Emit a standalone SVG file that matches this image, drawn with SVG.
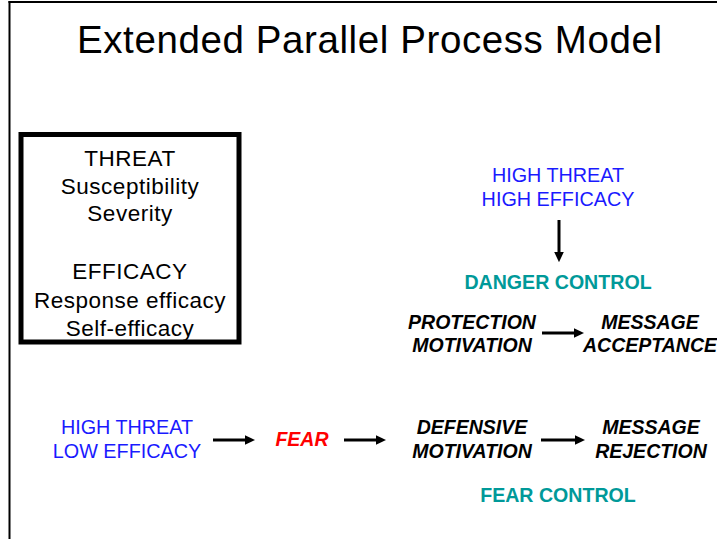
<svg xmlns="http://www.w3.org/2000/svg" width="717" height="539" viewBox="0 0 717 539">
<style>
text{font-family:"Liberation Sans",Arial,sans-serif;text-anchor:middle}
.title{font-size:38.5px;fill:#000}
.box{font-size:22.5px;fill:#000;letter-spacing:0.5px}
.blue{font-size:19.8px;fill:#1a1aff}
.teal{font-size:19.6px;font-weight:bold;fill:#009999}
.bi{font-size:19.5px;font-weight:bold;font-style:italic;fill:#000}
.red{font-size:19.5px;font-weight:bold;font-style:italic;fill:#ff0000}
.conn{stroke:#000;stroke-width:3;fill:none;marker-end:url(#ah)}
</style>
<defs>
<marker id="ah" markerWidth="3.4" markerHeight="3.2" refX="0" refY="1.6" orient="auto" markerUnits="strokeWidth" viewBox="0 0 3.4 3.2">
<path d="M0,0 L3.4,1.6 L0,3.2 Z" fill="#000"/>
</marker>
</defs>
<rect width="717" height="539" fill="#fff"/>
<g id="frame">
<line x1="9.5" y1="1" x2="9.5" y2="539" stroke="#000" stroke-width="2"/>
<line x1="8.5" y1="2" x2="717" y2="2" stroke="#000" stroke-width="2"/>
</g>
<g id="title"><text class="title" x="369.5" y="52.5" textLength="585" lengthAdjust="spacing">Extended Parallel Process Model</text></g>
<g id="constructs">
<rect x="21" y="134.5" width="218" height="207.5" fill="none" stroke="#000" stroke-width="5"/>
<text class="box" x="130" y="165.5">THREAT</text>
<text class="box" x="130" y="193.5">Susceptibility</text>
<text class="box" x="130" y="221">Severity</text>
<text class="box" x="130" y="279">EFFICACY</text>
<text class="box" x="130" y="308">Response efficacy</text>
<text class="box" x="130" y="336">Self-efficacy</text>
</g>
<g id="high-high">
<text class="blue" x="558" y="182">HIGH THREAT</text>
<text class="blue" x="558" y="206">HIGH EFFICACY</text>
</g>
<g id="danger-control"><text class="teal" x="558" y="289">DANGER CONTROL</text></g>
<g id="protection">
<text class="bi" x="472" y="329">PROTECTION</text>
<text class="bi" x="472" y="352">MOTIVATION</text>
</g>
<g id="acceptance">
<text class="bi" x="650" y="329">MESSAGE</text>
<text class="bi" x="650" y="352">ACCEPTANCE</text>
</g>
<g id="high-low">
<text class="blue" x="127" y="434">HIGH THREAT</text>
<text class="blue" x="127" y="458">LOW EFFICACY</text>
</g>
<g id="fear"><text class="red" x="302" y="446">FEAR</text></g>
<g id="defensive">
<text class="bi" x="472" y="434">DEFENSIVE</text>
<text class="bi" x="472" y="458">MOTIVATION</text>
</g>
<g id="rejection">
<text class="bi" x="651" y="434">MESSAGE</text>
<text class="bi" x="651" y="458">REJECTION</text>
</g>
<g id="fear-control"><text class="teal" x="558" y="502">FEAR CONTROL</text></g>
<g id="connectors">
<line class="conn" x1="559" y1="220" x2="559" y2="252"/>
<line class="conn" x1="542" y1="333" x2="574" y2="333"/>
<line class="conn" x1="213" y1="440" x2="245" y2="440"/>
<line class="conn" x1="344" y1="440" x2="376" y2="440"/>
<line class="conn" x1="541" y1="440" x2="575" y2="440"/>
</g>
</svg>
